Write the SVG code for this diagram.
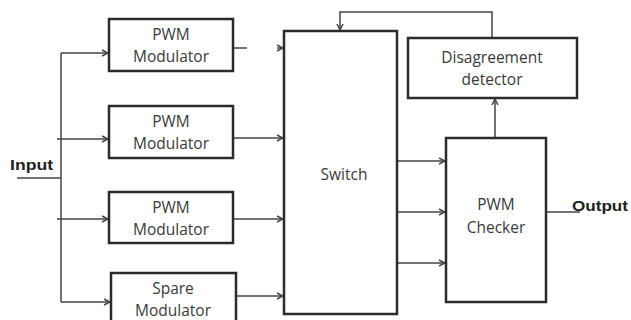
<svg xmlns="http://www.w3.org/2000/svg" width="631" height="320" viewBox="0 0 631 320">
<style>
.box{fill:#fff;stroke:#2b2b2b;stroke-width:2.5}
.ln{fill:none;stroke:#444;stroke-width:1.5}
.t{font-family:"Open Sans","Liberation Sans",sans-serif;font-size:15.5px;fill:#3a3a3a;text-anchor:middle}
.b{font-family:"Liberation Sans",sans-serif;font-size:14px;font-weight:bold;fill:#222}
</style>
<defs>
<marker id="a" markerWidth="8" markerHeight="8" refX="7" refY="4" orient="auto" markerUnits="userSpaceOnUse">
<path d="M1,1 L7,4 L1,7" fill="none" stroke="#444" stroke-width="1.5"/>
</marker>
</defs>
<rect width="631" height="320" fill="#fff"/>
<g id="connectors">
<path class="ln" d="M17,178 H61"/>
<path class="ln" d="M61,53 V302"/>
<path class="ln" d="M61,53 H108" marker-end="url(#a)"/>
<path class="ln" d="M57,139 H108" marker-end="url(#a)"/>
<path class="ln" d="M57,219 H108" marker-end="url(#a)"/>
<path class="ln" d="M61,302 H110" marker-end="url(#a)"/>
<path class="ln" d="M233,48 H247"/>
<path class="ln" d="M277,48 H283" marker-end="url(#a)"/>
<path class="ln" d="M233,138 H283" marker-end="url(#a)"/>
<path class="ln" d="M233,219 H283" marker-end="url(#a)"/>
<path class="ln" d="M236,296 H283" marker-end="url(#a)"/>
<path class="ln" d="M492,38 V12 H340 V30" marker-end="url(#a)"/>
<path class="ln" d="M495,138 V99" marker-end="url(#a)"/>
<path class="ln" d="M397,161 H445" marker-end="url(#a)"/>
<path class="ln" d="M397,212 H445" marker-end="url(#a)"/>
<path class="ln" d="M397,263 H445" marker-end="url(#a)"/>
<path class="ln" d="M546,212 H580"/>
</g>
<g id="input"><text class="b" x="10" y="170" textLength="43" lengthAdjust="spacingAndGlyphs">Input</text></g>
<g id="mod1"><rect class="box" x="109" y="19" width="124" height="52"/><text class="t" x="171" y="40">PWM</text><text class="t" x="171" y="62">Modulator</text></g>
<g id="mod2"><rect class="box" x="109" y="106" width="124" height="52"/><text class="t" x="171" y="127">PWM</text><text class="t" x="171" y="149">Modulator</text></g>
<g id="mod3"><rect class="box" x="109" y="192" width="124" height="51"/><text class="t" x="171" y="213">PWM</text><text class="t" x="171" y="235">Modulator</text></g>
<g id="spare"><rect class="box" x="111" y="273" width="125" height="52"/><text class="t" x="173" y="294">Spare</text><text class="t" x="173" y="316">Modulator</text></g>
<g id="switch"><rect class="box" x="284" y="31" width="113" height="283"/><text class="t" x="344" y="180">Switch</text></g>
<g id="detector"><rect class="box" x="408" y="38" width="169" height="60"/><text class="t" x="492" y="63">Disagreement</text><text class="t" x="492" y="85">detector</text></g>
<g id="checker"><rect class="box" x="446" y="138" width="100" height="164"/><text class="t" x="496" y="210">PWM</text><text class="t" x="496" y="233">Checker</text></g>
<g id="output"><text class="b" x="572" y="211" textLength="56" lengthAdjust="spacingAndGlyphs">Output</text></g>
</svg>
